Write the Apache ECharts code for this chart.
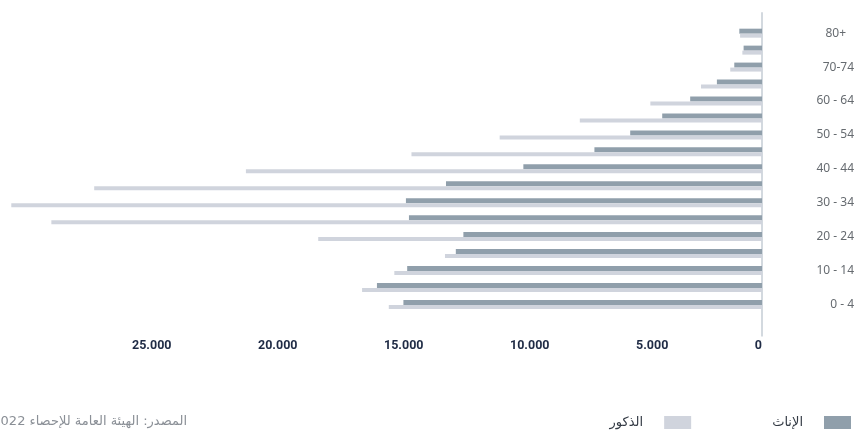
<!DOCTYPE html>
<html>
<head>
<meta charset="utf-8">
<script src="https://cdn.jsdelivr.net/npm/echarts@6/dist/echarts.min.js"></script>
<style>
html,body{margin:0;padding:0;background:#fff;}
#c{width:858px;height:432px;}
</style>
</head>
<body>
<div id="c"></div>
<script>
var categories = ['0 - 4','5 - 9','10 - 14','15 - 19','20 - 24','25 - 29','30 - 34','35 - 39','40 - 44','45 - 49','50 - 54','55 - 59','60 - 64','65-69','70-74','75-79','80+'];
var femaleValues = [14230, 15280, 14080, 12150, 11850, 14010, 14130, 12540, 9470, 6650, 5230, 3960, 2850, 1790, 1100, 730, 900];
var maleValues = [14810, 15870, 14590, 12580, 17610, 28200, 29790, 26500, 20480, 13910, 10410, 7230, 4430, 2420, 1260, 780, 870];
var femaleName = 'الإناث';
var maleName = 'الذكور';
var sourceText = 'المصدر: الهيئة العامة للإحصاء 2022';

var chart = echarts.init(document.getElementById('c'), null, {renderer: 'canvas'});
var arabicFont = '"DejaVu Sans", "Noto Sans", sans-serif';

var option = {
  animation: false,
  backgroundColor: '#ffffff',
  grid: {left: 6, right: 96, top: 24.7, bottom: 119.1, containLabel: false},
  xAxis: {
    type: 'value',
    inverse: true,
    min: 0,
    max: 30000,
    interval: 5000,
    axisLine: {show: false},
    axisTick: {show: false},
    splitLine: {show: false},
    axisLabel: {
      showMaxLabel: false,
      align: 'left',
      alignMinLabel: 'right',
      margin: 26,
      color: '#1f2b45',
      fontWeight: 'bold',
      fontSize: 12.5,
      fontFamily: 'Roboto, sans-serif',
      formatter: function (v) {
        if (v === 0) return '0';
        return (v / 1000).toFixed(3);
      }
    }
  },
  yAxis: {
    type: 'category',
    data: categories,
    position: 'right',
    axisLine: {show: false},
    axisTick: {show: false},
    axisLabel: {
      interval: 1,
      align: 'right',
      margin: 92,
      color: '#666b70',
      fontSize: 12,
      fontFamily: '"Noto Sans", sans-serif',
      formatter: function (v) {
        if (v === '80+') return '{p|' + v + '}';
        return v;
      },
      rich: {
        p: {padding: [0, 8, 0, 0], color: '#666b70', fontSize: 12, fontFamily: '"Noto Sans", sans-serif'}
      }
    }
  },
  legend: {
    data: [maleName, femaleName],
    right: 2,
    top: 411,
    align: 'right',
    itemWidth: 27,
    itemHeight: 13,
    itemGap: 81,
    icon: 'rect',
    textStyle: {color: '#333a44', fontSize: 13, fontFamily: arabicFont, padding: [0, 16, 0, 0]}
  },
  series: [
    {
      name: femaleName,
      type: 'bar',
      data: femaleValues,
      barWidth: 5,
      barGap: '0%',
      itemStyle: {color: '#909fab'}
    },
    {
      name: maleName,
      type: 'bar',
      data: maleValues,
      barWidth: 4,
      barGap: '0%',
      itemStyle: {color: '#d0d4dd'}
    }
  ]
};
chart.setOption(option);

var x0 = chart.convertToPixel({xAxisIndex: 0}, 0);
var yTopCat = chart.convertToPixel({yAxisIndex: 0}, categories[categories.length - 1]);
var yBotCat = chart.convertToPixel({yAxisIndex: 0}, categories[0]);
chart.setOption({
  graphic: [
    {
      type: 'line',
      shape: {x1: x0, y1: yTopCat - 21, x2: x0, y2: yBotCat + 32},
      style: {stroke: '#c5ccd4', lineWidth: 1.5},
      silent: true
    },
    {
      type: 'text',
      x: 187,
      y: 422,
      style: {
        text: sourceText,
        textAlign: 'right',
        textVerticalAlign: 'middle',
        fill: '#8a8f96',
        fontSize: 13,
        fontFamily: arabicFont
      },
      silent: true
    }
  ]
});
</script>
</body>
</html>
